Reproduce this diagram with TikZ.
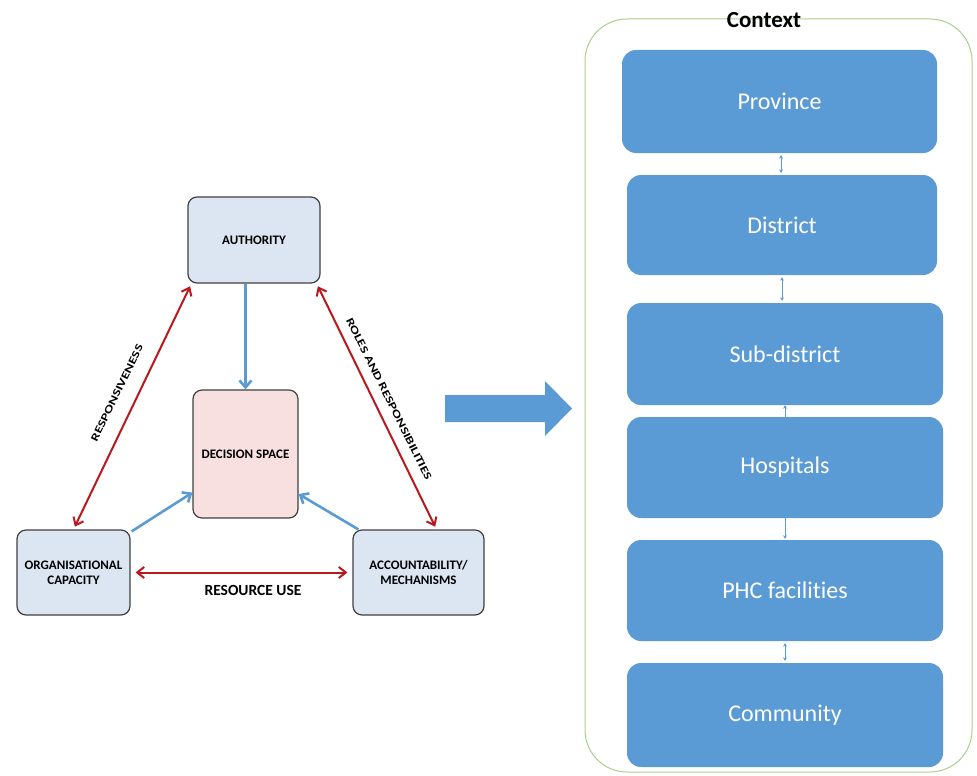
\documentclass[tikz,border=0pt]{standalone}
\usepackage{fontspec}
\setmainfont[Ligatures=NoCommon]{Carlito}
\newfontfamily\stretchfont[FakeStretch=1.35,Ligatures=NoCommon]{Carlito}
\usetikzlibrary{arrows.meta}
\definecolor{boxblue}{RGB}{220,230,242}
\definecolor{boxpink}{RGB}{249,224,224}
\definecolor{redarrow}{RGB}{185,25,30}
\definecolor{bluearrow}{RGB}{91,155,213}
\definecolor{levelblue}{RGB}{91,155,213}
\definecolor{ctxgreen}{RGB}{169,209,142}
\tikzset{
  tribox/.style={draw=black!75, line width=1.2pt, rounded corners=9pt, fill=boxblue, font=\bfseries\fontsize{13}{15}\selectfont, align=center, inner sep=0pt},
  redarr/.style={draw=redarrow, line width=2pt, {Straight Barb[length=7pt,width=11pt]}-{Straight Barb[length=7pt,width=11pt]}},
  bluarr/.style={draw=bluearrow, line width=2.6pt, -{Straight Barb[length=7pt,width=12pt]}},
  level/.style={fill=levelblue, draw=none, rounded corners=14pt, text=white, font=\fontsize{24}{28}\selectfont, inner sep=0pt},
  lvlarr/.style={draw=levelblue, line width=0.9pt, {Stealth[length=3.5pt,width=4pt]}-{Stealth[length=3.5pt,width=4pt]}},
  lbl/.style={font=\stretchfont\bfseries\fontsize{10.8}{12}\selectfont, inner sep=1pt}
}
\begin{document}
\begin{tikzpicture}[x=1pt,y=-1pt]
\useasboundingbox (0,0) rectangle (977,776);
% left triangle
\node[tribox, minimum width=132pt, minimum height=86pt] (auth) at (254,240) {AUTHORITY};
\node[tribox, fill=boxpink, minimum width=105pt, minimum height=128pt] (dec) at (245.5,454) {DECISION SPACE};
\node[tribox, minimum width=113pt, minimum height=85pt] (org) at (73.5,572.5) {ORGANISATIONAL\\CAPACITY};
\node[tribox, minimum width=131pt, minimum height=85pt] (acc) at (418.5,572.5) {ACCOUNTABILITY/\\MECHANISMS};
\draw[bluarr] (auth.south -| dec.north) -- (dec.north);
\draw[bluarr] ([xshift=1pt,yshift=-2pt]org.north east) -- (dec.216);
\draw[bluarr] ([xshift=6pt]acc.north west) -- (dec.-37);
\draw[redarr, shorten >=3pt, shorten <=3pt] (org.north) -- ([xshift=4pt]auth.south west);
\draw[redarr, shorten >=3pt, shorten <=3pt] ([xshift=-4pt]auth.south east) -- ([xshift=18pt]acc.north);
\draw[redarr, shorten >=5pt, shorten <=5pt] (org.east) -- (acc.west);
\node[lbl, rotate=64] (resp) at (117,393) {RESPONSIVENESS};
\node[lbl, rotate=-63.5] (roles) at (389,399) {ROLES AND RESPONSIBILITIES};
\node[font=\bfseries\fontsize{15.5}{17}\selectfont] (res) at (253,590) {RESOURCE USE};
% big arrow
\fill[bluearrow] (445,395) -- (545,395) -- (545,381) -- (572,408.5) -- (545,436) -- (545,422) -- (445,422) -- cycle;
% context
\draw[ctxgreen, line width=1pt, rounded corners=42pt] (585,19) rectangle (972,772);
\node[font=\bfseries\fontsize{23}{26}\selectfont, inner sep=0pt] (ctx) at (764,20) {Context};
\node[level, minimum width=315pt, minimum height=103pt] (prov) at (779.5,101.5) {Province};
\node[level, minimum width=310pt, minimum height=100pt] (dist) at (782,225) {District};
\node[level, minimum width=316pt, minimum height=102pt] (sub) at (785,354) {Sub-district};
\node[level, minimum width=316pt, minimum height=101pt] (hosp) at (785,467.5) {Hospitals};
\node[level, minimum width=316pt, minimum height=101pt] (phc) at (785,590.5) {PHC facilities};
\node[level, minimum width=316pt, minimum height=104pt] (comm) at (785,715) {Community};
\draw[lvlarr, shorten >=2pt, shorten <=2pt] (prov.south -| 781,0) -- (dist.north -| 781,0);
\draw[lvlarr, shorten >=2pt, shorten <=2pt] (dist.south -| 782,0) -- (sub.north -| 782,0);
\draw[draw=levelblue, line width=0.9pt, -{Stealth[length=3.5pt,width=4pt]}] (hosp.north -| 785,0) -- (sub.south -| 785,0);
\draw[draw=levelblue, line width=0.9pt, -{Stealth[length=3.5pt,width=4pt]}] (hosp.south -| 785,0) -- ([yshift=1pt]phc.north -| 785,0);
\draw[lvlarr, shorten >=2pt, shorten <=2pt] (phc.south -| 785,0) -- (comm.north -| 785,0);
\end{tikzpicture}
\end{document}
